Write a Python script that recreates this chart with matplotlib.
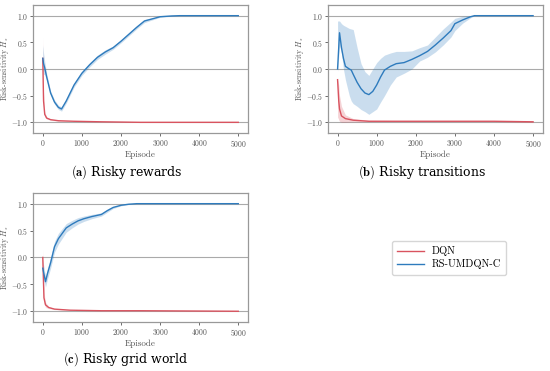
import matplotlib.pyplot as plt
import numpy as np

plt.rcParams['font.family'] = 'serif'
plt.rcParams['font.serif'] = ['cmr10', 'DejaVu Serif']
plt.rcParams['mathtext.fontset'] = 'cm'
plt.rcParams['axes.formatter.use_mathtext'] = True
plt.rcParams['axes.unicode_minus'] = True

RED = '#d9535f'
BLUE = '#2e7bbd'

# (a) Risky rewards
a_blue_x = [0, 20, 50, 100, 200, 300, 400, 480, 600, 800, 1000, 1200, 1400, 1600, 1800,
            2000, 2200, 2400, 2600, 2800, 3000, 3300, 3500, 4000, 5000]
a_blue_y = [0.2, 0.1, 0.02, -0.15, -0.45, -0.62, -0.72, -0.75, -0.6, -0.3, -0.08, 0.08,
            0.22, 0.32, 0.40, 0.52, 0.65, 0.78, 0.9, 0.94, 0.98, 0.995, 1.0, 1.0, 1.0]
a_blue_err = [0.25, 0.2, 0.12, 0.06, 0.04, 0.04, 0.04, 0.04, 0.04, 0.04, 0.04, 0.04,
              0.04, 0.04, 0.03, 0.03, 0.03, 0.03, 0.03, 0.02, 0.01, 0.005, 0.0, 0.0, 0.0]
a_red_x = [0, 20, 50, 100, 200, 400, 800, 1500, 2500, 5000]
a_red_y = [0.2, -0.6, -0.85, -0.92, -0.95, -0.97, -0.98, -0.99, -1.0, -1.0]
a_red_err = [0.4, 0.15, 0.05, 0.02, 0.01, 0.01, 0.005, 0.0, 0.0, 0.0]

# (b) Risky transitions
b_blue_x = [0, 50, 100, 150, 200, 300, 350, 400, 500, 600, 700, 800, 900, 1000, 1100,
            1200, 1350, 1500, 1700, 1900, 2100, 2300, 2500, 2700, 2900, 3000, 3200,
            3400, 3500, 4000, 5000]
b_blue_y = [0.0, 0.68, 0.4, 0.2, 0.05, 0.0, -0.02, -0.1, -0.25, -0.37, -0.45, -0.48,
            -0.42, -0.3, -0.15, -0.02, 0.05, 0.1, 0.12, 0.18, 0.25, 0.33, 0.45, 0.58,
            0.72, 0.85, 0.92, 0.98, 1.0, 1.0, 1.0]
b_blue_hi = [0.9, 0.9, 0.85, 0.82, 0.8, 0.76, 0.75, 0.74, 0.4, 0.1, -0.05, -0.12,
             0.0, 0.12, 0.2, 0.26, 0.3, 0.33, 0.33, 0.34, 0.4, 0.45, 0.6, 0.75,
             0.88, 0.95, 0.99, 1.0, 1.0, 1.0, 1.0]
b_blue_lo = [-0.05, 0.45, 0.3, 0.0, -0.2, -0.5, -0.6, -0.65, -0.7, -0.76, -0.8, -0.85,
             -0.8, -0.75, -0.62, -0.5, -0.3, -0.15, -0.08, 0.0, 0.15, 0.22, 0.32, 0.45,
             0.6, 0.72, 0.86, 0.96, 1.0, 1.0, 1.0]
b_red_x = [0, 30, 50, 100, 200, 400, 800, 2000, 4000, 5000]
b_red_y = [-0.2, -0.6, -0.75, -0.88, -0.93, -0.96, -0.98, -0.98, -0.98, -0.99]
b_red_hi = [-0.2, -0.3, -0.5, -0.7, -0.86, -0.93, -0.96, -0.97, -0.97, -0.98]
b_red_lo = [-0.9, -0.95, -0.98, -1.0, -1.0, -0.99, -0.99, -0.99, -0.99, -1.0]

# (c) Risky grid world
c_blue_x = [0, 70, 120, 200, 250, 300, 400, 500, 600, 750, 900, 1050, 1250, 1500,
            1650, 1800, 2000, 2200, 2400, 3000, 5000]
c_blue_y = [-0.2, -0.45, -0.3, -0.1, 0.05, 0.2, 0.35, 0.45, 0.55, 0.62, 0.68, 0.72,
            0.76, 0.8, 0.87, 0.93, 0.97, 0.99, 1.0, 1.0, 1.0]
c_blue_err = [0.15, 0.1, 0.1, 0.1, 0.1, 0.1, 0.1, 0.09, 0.08, 0.07, 0.06, 0.05,
              0.04, 0.03, 0.03, 0.02, 0.01, 0.005, 0.0, 0.0, 0.0]
c_red_x = [0, 30, 70, 150, 300, 700, 1500, 2500, 5000]
c_red_y = [0.0, -0.75, -0.88, -0.93, -0.96, -0.98, -0.99, -0.99, -1.0]
c_red_err = [0.15, 0.1, 0.05, 0.02, 0.01, 0.005, 0.0, 0.0, 0.0]

legend_labels = ['DQN', 'RS-UMDQN-C']


def style_ax(ax):
    ax.set_xlim(-250, 5250)
    ax.set_ylim(-1.2, 1.2)
    ax.set_xticks([0, 1000, 2000, 3000, 4000, 5000])
    ax.set_yticks([-1.0, -0.5, 0.0, 0.5, 1.0])
    ax.set_yticklabels(['$-1.0$', '$-0.5$', '$0.0$', '$0.5$', '$1.0$'])
    for yv in [-1, 0, 1]:
        ax.axhline(yv, color='#aaaaaa', lw=0.8, zorder=0)
    for s in ax.spines.values():
        s.set_color('#999999')
        s.set_linewidth(0.9)
    ax.tick_params(labelsize=5.5, colors='#555555', length=2, width=0.6, pad=1.5)
    ax.set_xlabel('Episode', fontsize=6.5, color='#555555', labelpad=1)
    ax.set_ylabel('Risk-sensitivity $H_s$', fontsize=5.5, color='#555555')
    ax.yaxis.set_label_coords(-0.1, 0.5)


fig = plt.figure(figsize=(5.5, 3.71), dpi=100)
ax_a = fig.add_axes([0.06, 0.6415, 0.391, 0.345])
ax_b = fig.add_axes([0.596, 0.6415, 0.391, 0.345])
ax_c = fig.add_axes([0.06, 0.132, 0.391, 0.348])

# (a)
ax_a.fill_between(a_red_x, np.array(a_red_y) - np.array(a_red_err),
                  np.array(a_red_y) + np.array(a_red_err), color=RED, alpha=0.2, lw=0)
ax_a.fill_between(a_blue_x, np.array(a_blue_y) - np.array(a_blue_err),
                  np.array(a_blue_y) + np.array(a_blue_err), color=BLUE, alpha=0.25, lw=0)
ax_a.plot(a_red_x, a_red_y, color=RED, lw=1.0)
ax_a.plot(a_blue_x, a_blue_y, color=BLUE, lw=1.0)

# (b)
ax_b.fill_between(b_red_x, b_red_lo, b_red_hi, color=RED, alpha=0.25, lw=0)
ax_b.fill_between(b_blue_x, b_blue_lo, b_blue_hi, color=BLUE, alpha=0.25, lw=0)
ax_b.plot(b_red_x, b_red_y, color=RED, lw=1.0)
ax_b.plot(b_blue_x, b_blue_y, color=BLUE, lw=1.0)

# (c)
ax_c.fill_between(c_red_x, np.array(c_red_y) - np.array(c_red_err),
                  np.array(c_red_y) + np.array(c_red_err), color=RED, alpha=0.2, lw=0)
ax_c.fill_between(c_blue_x, np.array(c_blue_y) - np.array(c_blue_err),
                  np.array(c_blue_y) + np.array(c_blue_err), color=BLUE, alpha=0.25, lw=0)
l_red, = ax_c.plot(c_red_x, c_red_y, color=RED, lw=1.0)
l_blue, = ax_c.plot(c_blue_x, c_blue_y, color=BLUE, lw=1.0)

for ax in (ax_a, ax_b, ax_c):
    style_ax(ax)

cap_font = dict(fontsize=9, family='DejaVu Serif', ha='center', va='center')
fig.text(0.23, 0.536, r'$\mathbf{(a)}$ Risky rewards', **cap_font)
fig.text(0.768, 0.536, r'$\mathbf{(b)}$ Risky transitions', **cap_font)
fig.text(0.229, 0.032, r'$\mathbf{(c)}$ Risky grid world', **cap_font)

fig.legend([l_red, l_blue], legend_labels, loc='center', bbox_to_anchor=(0.817, 0.305),
           fontsize=7.5, frameon=True, edgecolor='#cccccc', fancybox=True,
           handlelength=2.5, borderpad=0.5, labelspacing=0.3)

fig.savefig('out.png', dpi=100)
